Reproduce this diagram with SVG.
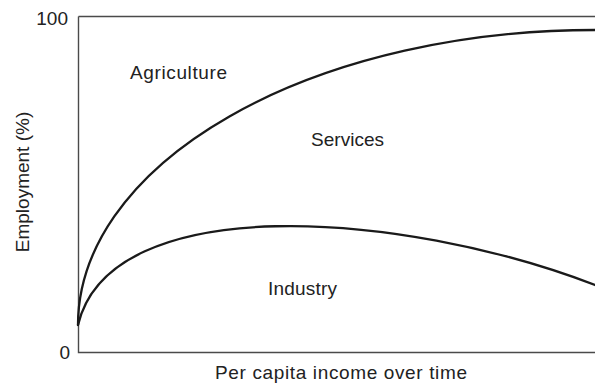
<svg xmlns="http://www.w3.org/2000/svg" width="595" height="387" viewBox="0 0 595 387">
<style>
.lbl{font-family:"Liberation Sans",Arial,sans-serif;font-size:19px;fill:#222}
.axis{stroke:#4a4a4a;stroke-width:1.4;fill:none}
.curve{stroke:#1a1a1a;stroke-width:2.3;fill:none;stroke-linecap:round;stroke-linejoin:round}
</style>
<rect width="595" height="387" fill="#fff"/>
<g id="axes">
<path class="axis" d="M78.5,16.5 H595 M78.5,16.5 V352.5 H595"/>
<text class="lbl" x="68" y="25" text-anchor="end">100</text>
<text class="lbl" x="70" y="359" text-anchor="end">0</text>
<text class="lbl" x="215" y="379" textLength="252" lengthAdjust="spacing">Per capita income over time</text>
<text class="lbl" transform="translate(29,182) rotate(-90)" text-anchor="middle">Employment (%)</text>
</g>
<g id="connectors">
<path id="agri-services" class="curve" d="M78,325 A517,295 0 0 1 595,30"/>
<path id="services-industry" class="curve" d="M78,325 C110,190 400,210 595,285"/>
</g>
<g id="agriculture"><text class="lbl" x="130" y="79" textLength="97" lengthAdjust="spacing">Agriculture</text></g>
<g id="services"><text class="lbl" x="311" y="146" textLength="73" lengthAdjust="spacing">Services</text></g>
<g id="industry"><text class="lbl" x="268" y="295" textLength="69" lengthAdjust="spacing">Industry</text></g>
</svg>
